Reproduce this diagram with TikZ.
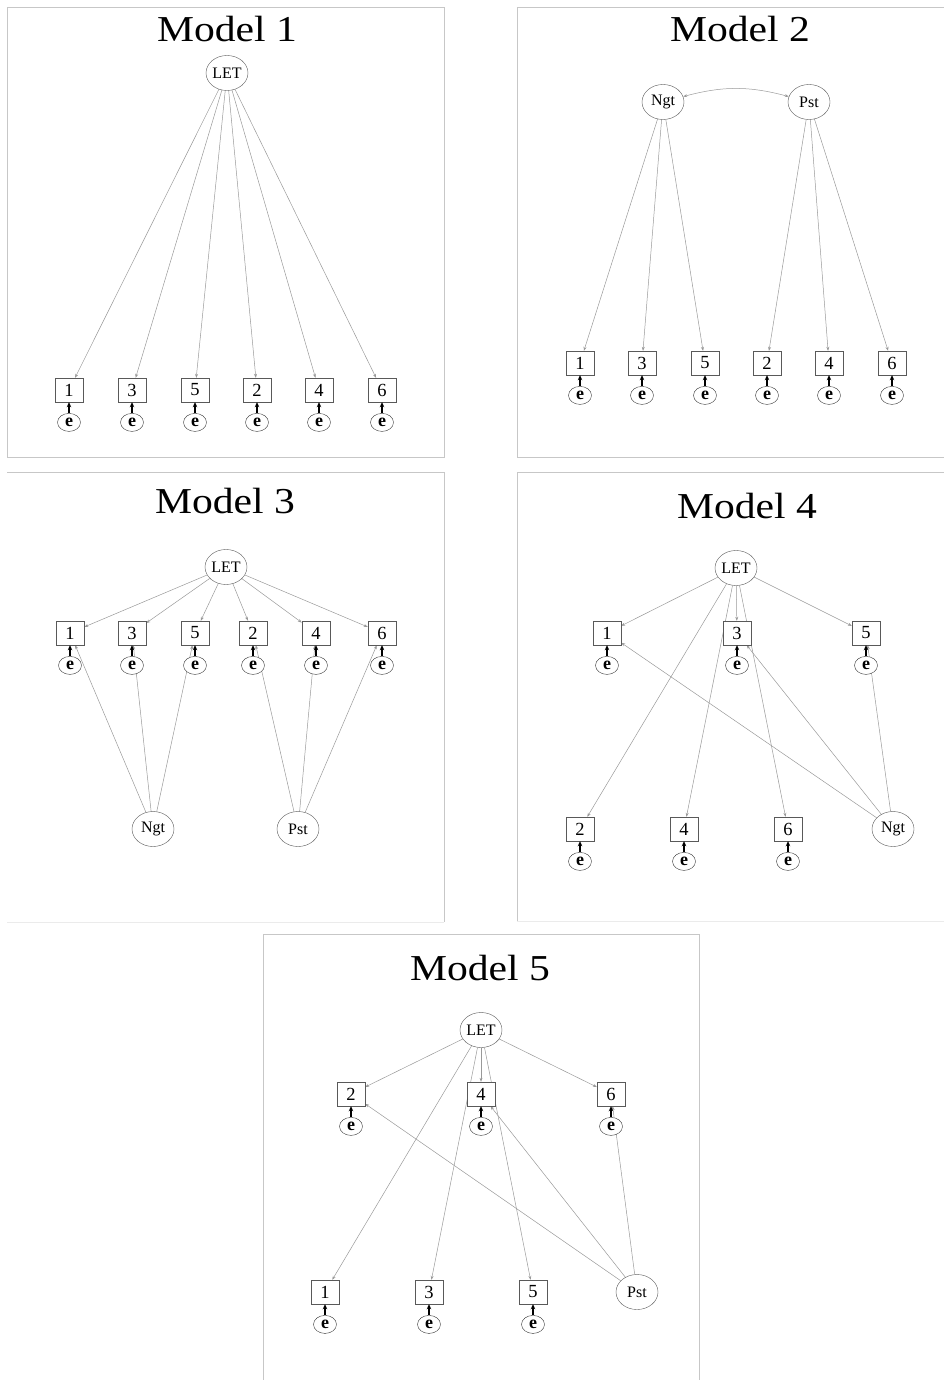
\documentclass[tikz,border=0pt]{standalone}
\usepackage{fontspec}
\setmainfont{Liberation Serif}
\newfontfamily\titlefont[FakeStretch=1.14]{Liberation Serif}
\usetikzlibrary{arrows.meta,positioning,shapes.geometric,backgrounds}

\tikzset{
  lat/.style={ellipse, draw=black!65, fill=white, minimum width=42pt, minimum height=35pt, inner sep=0pt, font=\fontsize{16}{16}\selectfont},
  obs/.style={rectangle, draw=black!65, fill=white, minimum width=28pt, minimum height=24pt, inner sep=0pt, font=\fontsize{18.5}{18.5}\selectfont},
  err/.style={ellipse, draw=black!80, fill=white, minimum width=23pt, minimum height=18pt, inner sep=0pt, font=\bfseries\fontsize{18}{18}\selectfont},
  load/.style={-{Stealth[length=4pt,width=3pt]}, draw=black!40, line width=0.5pt},
  resid/.style={-{Stealth[length=5pt,width=4.5pt]}, line width=1.2pt},
  frame/.style={draw=black!22, line width=0.8pt},
  mtitle/.style={font=\titlefont\fontsize{36.5}{36.5}\selectfont, anchor=base},
}

\begin{document}
\begin{tikzpicture}[x=1pt, y=-1pt]
    \useasboundingbox (0,0) rectangle (944,1380);
    % Model 1
    \draw[frame] (7,7) rectangle (444,457);
    \node[mtitle] at (227,42) {Model 1};
    \node[lat] (m1L) at (227,73) {LET};
    \foreach \v/\x in {1/69,3/132,5/195,2/257,4/319,6/382} {
      \node[obs] (m1b\v) at (\x,390) {\v};
      \node[err, below=11pt of m1b\v] (m1e\v) {e};
      \draw[resid] (m1e\v) -- (m1b\v);
      \begin{pgfonlayer}{background}
        \draw[load] (m1L) -- (m1b\v);
      \end{pgfonlayer}
    }
    % Model 2
    \draw[frame] (944,7) -- (517,7) -- (517,457) -- (944,457);
    \node[mtitle] at (740,42) {Model 2};
    \node[lat] (m2N) at (663,102) {Ngt};
    \node[lat] (m2P) at (809,102) {Pst};
    \draw[load, {Stealth[length=4pt,width=3pt]}-{Stealth[length=4pt,width=3pt]}] (m2N) to[bend left=15] (m2P);
    \foreach \v/\x/\f in {1/580/N,3/642/N,5/705/N,2/767/P,4/829/P,6/892/P} {
      \node[obs] (m2b\v) at (\x,363) {\v};
      \node[err, below=11pt of m2b\v] (m2e\v) {e};
      \draw[resid] (m2e\v) -- (m2b\v);
      \begin{pgfonlayer}{background}
        \draw[load] (m2\f) -- (m2b\v);
      \end{pgfonlayer}
    }
    % Model 3
    \draw[frame] (7,472) -- (444,472) -- (444,922);
    \draw[draw=black!8, line width=0.8pt] (7,922) -- (444,922);
    \node[mtitle] at (225,513) {Model 3};
    \node[lat] (m3L) at (226,567) {LET};
    \node[lat] (m3N) at (153,829) {Ngt};
    \node[lat] (m3P) at (298,829) {Pst};
    \foreach \v/\x/\f in {1/70/N,3/132/N,5/195/N,2/253/P,4/316/P,6/382/P} {
      \node[obs] (m3b\v) at (\x,633) {\v};
      \node[err, below=11pt of m3b\v] (m3e\v) {e};
      \draw[resid] (m3e\v) -- (m3b\v);
      \begin{pgfonlayer}{background}
        \draw[load] (m3L) -- (m3b\v);
        \draw[load] (m3\f) -- (m3b\v);
      \end{pgfonlayer}
    }
    % Model 4
    \draw[frame] (944,472) -- (517,472) -- (517,921);
    \draw[draw=black!8, line width=0.8pt] (517,921) -- (944,921);
    \node[mtitle] at (747,518) {Model 4};
    \node[lat] (m4L) at (736,568) {LET};
    \node[lat] (m4N) at (893,829) {Ngt};
    \foreach \v/\x/\y in {1/607/633,3/737/633,5/866/633,2/580/829,4/684/829,6/788/829} {
      \node[obs] (m4b\v) at (\x,\y) {\v};
      \node[err, below=11pt of m4b\v] (m4e\v) {e};
      \draw[resid] (m4e\v) -- (m4b\v);
      \begin{pgfonlayer}{background}
        \draw[load] (m4L) -- (m4b\v);
      \end{pgfonlayer}
    }
    \begin{pgfonlayer}{background}
      \foreach \v in {1,3,5}
        \draw[load] (m4N) -- (m4b\v);
    \end{pgfonlayer}
    % Model 5
    \draw[frame] (263,1380) -- (263,934) -- (699,934) -- (699,1380);
    \node[mtitle] at (480,980) {Model 5};
    \node[lat] (m5L) at (481,1030) {LET};
    \node[lat] (m5P) at (637,1292) {Pst};
    \foreach \v/\x/\y in {2/351/1094,4/481/1094,6/611/1094,1/325/1292,3/429/1292,5/533/1292} {
      \node[obs] (m5b\v) at (\x,\y) {\v};
      \node[err, below=11pt of m5b\v] (m5e\v) {e};
      \draw[resid] (m5e\v) -- (m5b\v);
      \begin{pgfonlayer}{background}
        \draw[load] (m5L) -- (m5b\v);
      \end{pgfonlayer}
    }
    \begin{pgfonlayer}{background}
      \foreach \v in {2,4,6}
        \draw[load] (m5P) -- (m5b\v);
    \end{pgfonlayer}
\end{tikzpicture}
\end{document}
